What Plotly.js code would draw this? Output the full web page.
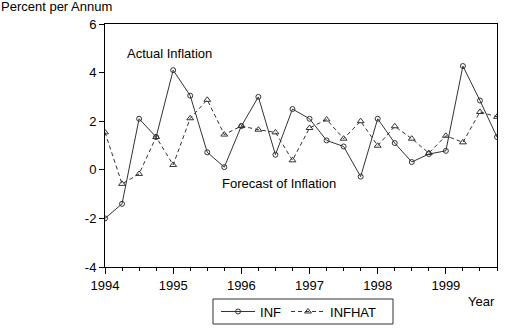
<!DOCTYPE html>
<html><head><meta charset="utf-8">
<script src="https://cdn.plot.ly/plotly-3.0.1.min.js"></script>
<style>body{margin:0;padding:0;background:#fff}#c{width:505px;height:330px}</style>
</head><body><div id="c"></div>
<script>
const quarters = [1994.0,1994.25,1994.5,1994.75,1995.0,1995.25,1995.5,1995.75,1996.0,1996.25,1996.5,1996.75,1997.0,1997.25,1997.5,1997.75,1998.0,1998.25,1998.5,1998.75,1999.0,1999.25,1999.5,1999.75];
const inf = [-2.0,-1.4,2.1,1.35,4.1,3.05,0.72,0.11,1.8,3.0,0.62,2.5,2.1,1.21,0.96,-0.28,2.1,1.1,0.32,0.65,0.78,4.27,2.85,1.35];
const infhat = [1.54,-0.58,-0.17,1.35,0.2,2.12,2.88,1.45,1.8,1.65,1.54,0.39,1.72,2.07,1.28,2.0,0.99,1.79,1.28,0.69,1.4,1.13,2.38,2.18];
const yTicks = [-4,-2,0,2,4,6];
const yLabels = ['-4','-2','0','2','4','6'];
const xTicks = [1994,1995,1996,1997,1998,1999];

const font = {family:'Liberation Sans, Arial, sans-serif', size:13, color:'#000'};
const traces = [
 {x:quarters, y:inf, name:'INF', mode:'lines+markers', line:{color:'#333',width:1},
  marker:{symbol:'circle-open', size:5, color:'#333', line:{width:1}}},
 {x:quarters, y:infhat, name:'INFHAT', mode:'lines+markers', line:{color:'#333',width:1,dash:'4px,3px'},
  marker:{symbol:'triangle-up-open', size:6, color:'#333', line:{width:1}}}
];
const layout = {
 width:505, height:330, margin:{l:105,r:8,t:24,b:63,autoexpand:false},
 paper_bgcolor:'#fff', plot_bgcolor:'#fff', font:font, showlegend:true,
 xaxis:{range:[1994,1999.75], tickvals:xTicks, ticktext:xTicks.map(String), ticks:'outside', ticklen:6, tickcolor:'#000',
  showgrid:false, zeroline:false, showline:true, linecolor:'#000', linewidth:1, mirror:true,
  minor:{dtick:0.25, tick0:1994, ticks:'outside', ticklen:3, tickcolor:'#000', showgrid:false}, tickfont:font},
 yaxis:{range:[-4,6], tickvals:yTicks, ticktext:yLabels, ticks:'outside', ticklen:5, tickcolor:'#000', showgrid:false, zeroline:false,
  showline:true, linecolor:'#000', linewidth:1, mirror:true, tickfont:font},
 legend:{orientation:'h', x:0.495, xanchor:'center', y:-0.245, yanchor:'bottom', borderwidth:0,
  bgcolor:'rgba(0,0,0,0)', font:font, itemwidth:34, tracegroupgap:0},
 shapes:[
  {type:'rect', xref:'paper', yref:'paper', x0:0.2755, x1:0.7347, y0:-0.2346, y1:-0.1317, line:{color:'#333',width:1}, fillcolor:'rgba(0,0,0,0)'}
 ],
 annotations:[
  {xref:'paper',yref:'paper',x:-0.27,y:1.07,xanchor:'left',yanchor:'middle',text:'Percent per Annum',showarrow:false,font:font},
  {xref:'paper',yref:'paper',x:1.0,y:-0.14,xanchor:'right',yanchor:'middle',text:'Year',showarrow:false,font:font},
  {xref:'x',yref:'y',x:1994.3,y:4.8,xanchor:'left',yanchor:'middle',text:'Actual Inflation',showarrow:false,font:font},
  {xref:'x',yref:'y',x:1995.68,y:-0.55,xanchor:'left',yanchor:'middle',text:'Forecast of Inflation',showarrow:false,font:font}
 ]
};
Plotly.newPlot('c', traces, layout, {displayModeBar:false, staticPlot:true});
</script></body></html>
